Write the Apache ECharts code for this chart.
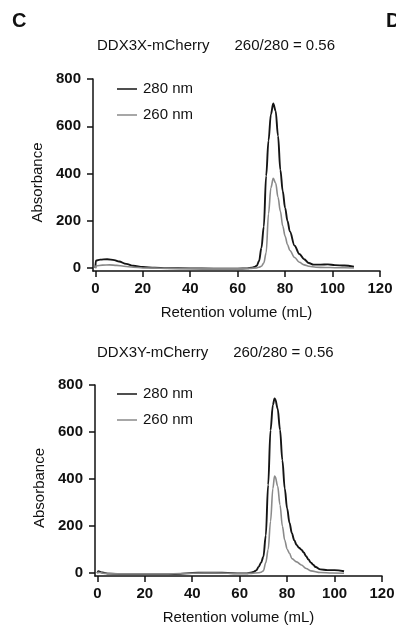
<!DOCTYPE html>
<html>
<head>
<meta charset="utf-8">
<script src="https://cdn.jsdelivr.net/npm/echarts@6/dist/echarts.min.js"></script>
<style>
  html, body { margin: 0; padding: 0; background: #fff; }
  #main { width: 396px; height: 629px; }
</style>
</head>
<body>
<div id="main"></div>
<script>
// DDX3X-mCherry (top panel)
const xVol280 = [0, 0.2, 2, 5, 8, 10, 13, 16, 20, 25, 30, 40, 50, 60, 64, 66, 67, 68, 69, 70, 71, 72, 73, 74, 75, 76, 77, 78, 79, 80, 81, 82, 84, 86, 88, 90, 92, 95, 98, 101, 105, 109];
const xAbs280 = [0, 32, 36, 38, 34, 28, 18, 10, 5, 2, 0, -1, -2, -2, -1, 2, 5, 10, 30, 85, 175, 390, 540, 650, 697, 665, 560, 415, 325, 255, 200, 155, 95, 60, 38, 22, 15, 15, 16, 13, 11, 6];
const xVol260 = [0, 0.2, 3, 6, 9, 12, 16, 20, 25, 30, 40, 50, 60, 65, 68, 69, 70, 71, 72, 73, 74, 75, 76, 77, 78, 79, 80, 81, 82, 84, 86, 88, 90, 93, 97, 101, 105, 109];
const xAbs260 = [0, 10, 13, 14, 12, 8, 4, 1, 0, -1, -2, -2, -2, -1, 1, 4, 8, 22, 65, 230, 340, 380, 360, 300, 240, 178, 135, 100, 75, 45, 25, 14, 8, 4, 3, 2, 2, 1];

// DDX3Y-mCherry (bottom panel)
const yVol280 = [0, 0.3, 2, 5, 10, 20, 30, 35, 40, 45, 50, 55, 60, 63, 65, 66, 67, 68, 69, 70, 71, 72, 73, 74, 74.7, 75, 76, 77, 78, 79, 80, 81, 82, 83, 84, 85, 86, 87, 88, 89, 90, 91, 92, 94, 97, 100, 104];
const yAbs280 = [0, 8, 3, -2, -4, -4, -4, -3, 1, 2, 2, 1, -1, -1, 3, 6, 12, 27, 45, 70, 160, 375, 608, 715, 743, 740, 700, 610, 480, 360, 275, 215, 170, 140, 120, 108, 100, 88, 72, 58, 45, 36, 26, 16, 13, 13, 8];
const yVol260 = [0, 0.3, 3, 10, 30, 40, 50, 60, 65, 68, 69, 70, 71, 72, 73, 74, 74.7, 75, 76, 77, 78, 79, 80, 81, 82, 84, 86, 88, 90, 94, 99, 104];
const yAbs260 = [0, 4, -1, -3, -3, 0, 1, -1, -1, 2, 4, 10, 45, 100, 220, 360, 413, 410, 370, 290, 200, 140, 102, 85, 62, 48, 35, 20, 10, 3, 1, 0];

const xTicks = [0, 20, 40, 60, 80, 100, 120];
const yTicks = [0, 200, 400, 600, 800];

const pairs = (xs, ys) => xs.map((v, i) => [v, ys[i]]);

const FONT = 'Liberation Sans, Arial, sans-serif';
const INK = '#111';

const makeX = (gi) => ({
  gridIndex: gi,
  type: 'value',
  min: -1,
  max: 120,
  axisLine: { show: true, onZero: false, lineStyle: { color: INK, width: 1.5 } },
  axisTick: { show: true, length: 6, customValues: xTicks, lineStyle: { color: INK, width: 1.5 } },
  axisLabel: { customValues: xTicks, margin: 10, color: INK, fontSize: 15, fontWeight: 'bold', fontFamily: FONT },
  splitLine: { show: false },
  name: 'Retention volume (mL)',
  nameLocation: 'middle',
  nameGap: 34,
  nameTextStyle: { color: INK, fontSize: 15, fontFamily: FONT }
});

const makeY = (gi) => ({
  gridIndex: gi,
  type: 'value',
  min: -12,
  max: 800,
  axisLine: { show: true, onZero: false, lineStyle: { color: INK, width: 1.5 } },
  axisTick: { show: true, length: 6, customValues: yTicks, lineStyle: { color: INK, width: 1.5 } },
  axisLabel: { customValues: yTicks, margin: 12, color: INK, fontSize: 15, fontWeight: 'bold', fontFamily: FONT },
  splitLine: { show: false },
  name: 'Absorbance',
  nameLocation: 'middle',
  nameGap: 43,
  nameTextStyle: { color: INK, fontSize: 15, fontFamily: FONT, padding: [0, 15, 0, 0] }
});

const makeLine = (name, gi, data, color, width) => ({
  name: name,
  type: 'line',
  xAxisIndex: gi,
  yAxisIndex: gi,
  data: data,
  showSymbol: false,
  smooth: 0.35,
  smoothMonotone: 'x',
  lineStyle: { color: color, width: width },
  itemStyle: { color: color },
  animation: false
});

const makeLegend = (top) => ({
  left: 112,
  top: top,
  orient: 'vertical',
  data: ['280 nm', '260 nm'],
  icon: 'rect',
  itemWidth: 20,
  itemHeight: 1.5,
  itemGap: 8,
  selectedMode: false,
  textStyle: { color: INK, fontSize: 15, fontFamily: FONT, lineHeight: 18, padding: [0, 0, 0, 1] }
});

var myChart = echarts.init(document.getElementById('main'), null, { renderer: 'canvas' });

var option = {
  backgroundColor: '#fff',
  animation: false,
  title: [
    { text: 'C', left: 12, top: 11, padding: 0, textStyle: { fontSize: 20, fontWeight: 'bold', color: INK, fontFamily: FONT } },
    { text: 'D', left: 386, top: 11, padding: 0, textStyle: { fontSize: 20, fontWeight: 'bold', color: INK, fontFamily: FONT } },
    { text: 'DDX3X-mCherry      260/280 = 0.56', left: 97, top: 38, padding: 0, textStyle: { fontSize: 15, fontWeight: 'normal', color: INK, fontFamily: FONT } },
    { text: 'DDX3Y-mCherry      260/280 = 0.56', left: 97, top: 345, padding: 0, textStyle: { fontSize: 15, fontWeight: 'normal', color: INK, fontFamily: FONT } }
  ],
  legend: [makeLegend(75), makeLegend(380)],
  grid: [
    { left: 93, top: 79, width: 287, height: 192, containLabel: false, outerBoundsMode: 'none' },
    { left: 95, top: 385, width: 287, height: 191, containLabel: false, outerBoundsMode: 'none' }
  ],
  xAxis: [makeX(0), makeX(1)],
  yAxis: [makeY(0), makeY(1)],
  series: [
    makeLine('280 nm', 0, pairs(xVol280, xAbs280), '#151515', 1.9),
    makeLine('260 nm', 0, pairs(xVol260, xAbs260), '#8a8a8a', 1.6),
    makeLine('280 nm', 1, pairs(yVol280, yAbs280), '#151515', 1.9),
    makeLine('260 nm', 1, pairs(yVol260, yAbs260), '#8a8a8a', 1.6)
  ]
};

option && myChart.setOption(option, true);
window.onresize = () => {
  myChart.resize();
};
</script>
</body>
</html>
